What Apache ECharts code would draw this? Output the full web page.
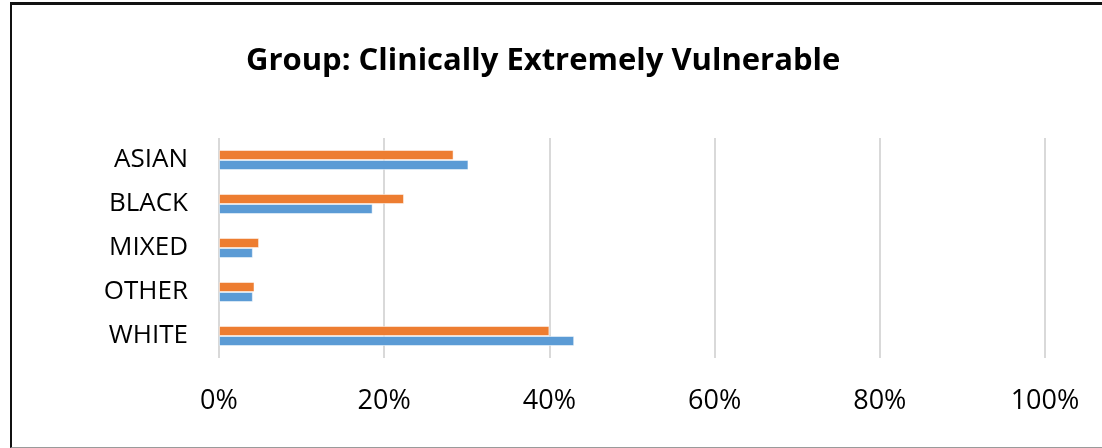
<!DOCTYPE html>
<html>
<head>
<meta charset="utf-8">
<script src="https://cdn.jsdelivr.net/npm/echarts@6/dist/echarts.min.js"></script>
<style>
html,body{margin:0;padding:0;background:#fff;overflow:hidden;}
#frame{position:absolute;left:10px;top:2px;width:1200px;height:442px;border-left:2px solid #111;border-top:3px solid #111;border-bottom:1px solid #9a9a9a;}
#chart{position:absolute;left:0;top:0;width:1102px;height:448px;}
</style>
</head>
<body>
<div id="frame"></div>
<div id="chart"></div>
<script>
const categories = ['ASIAN', 'BLACK', 'MIXED', 'OTHER', 'WHITE'];
const orangeValues = [28.4, 22.4, 4.85, 4.3, 40.0];
const blueValues = [30.2, 18.6, 4.1, 4.1, 43.0];
const tickValues = [0, 20, 40, 60, 80, 100];
const titleText = 'Group: Clinically Extremely Vulnerable';

const chart = echarts.init(document.getElementById('chart'), null, {renderer: 'canvas'});
chart.setOption({
  animation: false,
  backgroundColor: 'transparent',
  title: {
    text: titleText,
    left: 241,
    top: 41,
    textStyle: {fontFamily: 'Open Sans', fontWeight: 'bold', fontSize: 31, color: '#000'}
  },
  grid: {left: 219, right: 57, top: 138, bottom: 90, containLabel: false},
  xAxis: {
    type: 'value',
    min: tickValues[0],
    max: tickValues[tickValues.length - 1],
    interval: 20,
    axisLine: {show: false},
    axisTick: {show: false},
    splitLine: {show: true, lineStyle: {color: '#d9d9d9', width: 2}},
    axisLabel: {
      formatter: v => v + '%',
      fontFamily: 'Open Sans', fontSize: 27, color: '#000', margin: 30
    }
  },
  yAxis: {
    type: 'category',
    data: categories,
    inverse: true,
    axisLine: {show: false},
    axisTick: {show: false},
    axisLabel: {fontFamily: 'Open Sans', fontSize: 26, color: '#000', margin: 31, padding: [6, 0, 0, 0]}
  },
  series: [
    {
      name: 'Orange', type: 'bar', data: orangeValues, barWidth: 10, barGap: '0%',
      itemStyle: {color: '#ED7D31', borderColor: 'rgba(255,255,255,0.5)', borderWidth: 1}
    },
    {
      name: 'Blue', type: 'bar', data: blueValues, barWidth: 10, barGap: '0%',
      itemStyle: {color: '#5B9BD5', borderColor: 'rgba(255,255,255,0.5)', borderWidth: 1}
    }
  ]
});
</script>
</body>
</html>
